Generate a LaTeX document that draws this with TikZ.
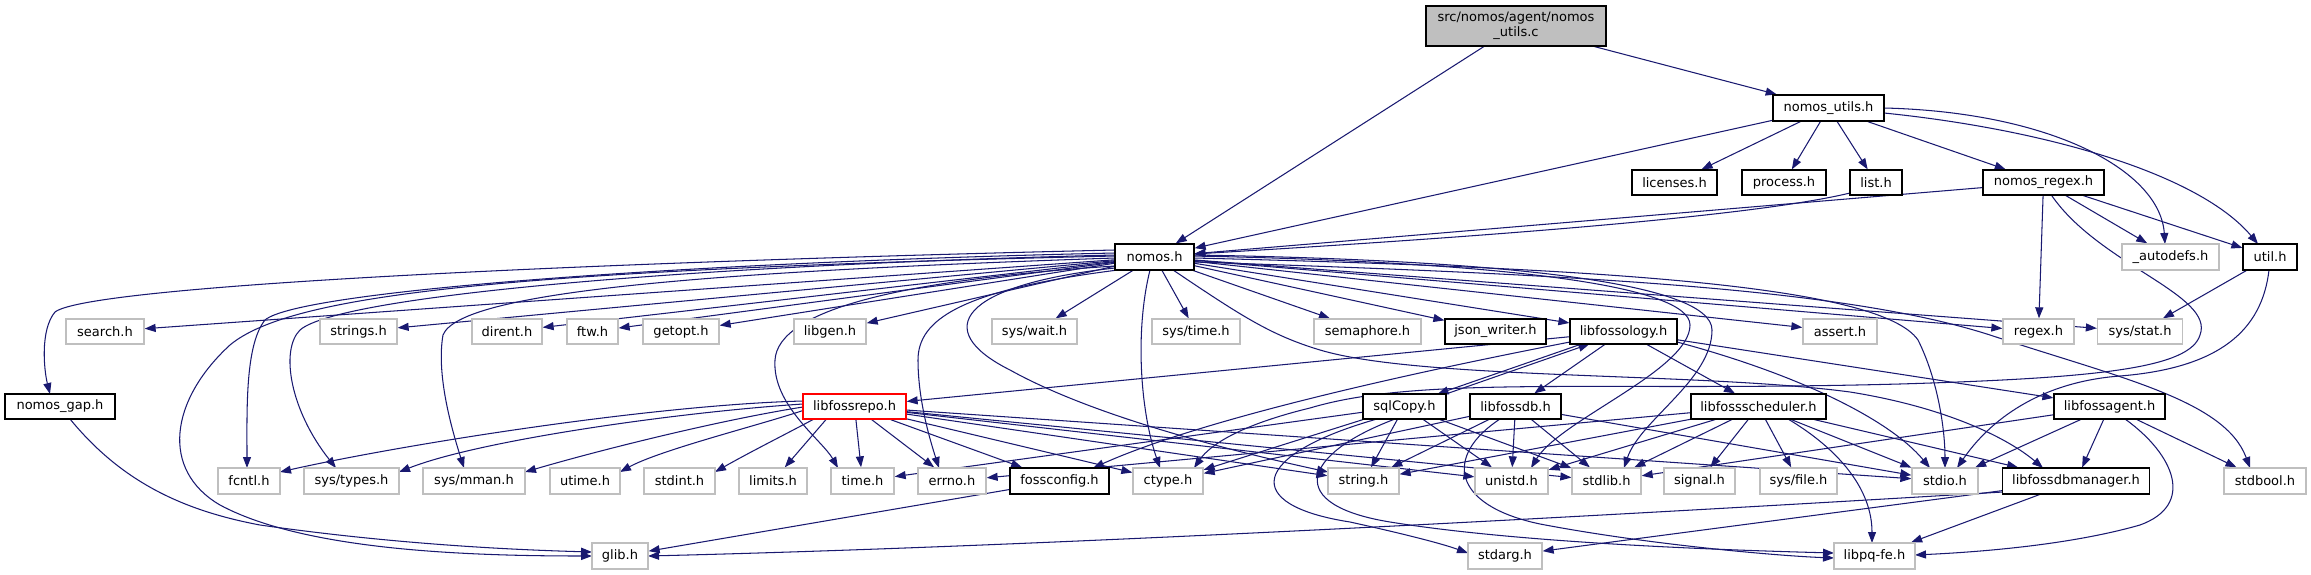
\documentclass[tikz,border=0pt]{standalone}
\usepackage{fontspec}
\newfontfamily\dv{DejaVu Sans}
\usetikzlibrary{arrows.meta}
\definecolor{edgec}{RGB}{25,25,112}
\definecolor{grayc}{RGB}{191,191,191}
\pgfdeclarelayer{bg}
\pgfsetlayers{bg,main}
\begin{document}
\begin{tikzpicture}[x=1pt,y=-1pt,
  e/.style={draw=edgec, line width=1.05pt, -{Triangle[length=11pt,width=8pt]}},
  nb/.style={draw=grayc, fill=white, line width=1.3pt, minimum height=25pt, inner sep=0pt, font=\dv\fontsize{13}{15}\selectfont},
  bb/.style={nb, draw=black, line width=1.2pt},
  rb/.style={nb, draw=red},
  sb/.style={bb, fill=grayc, align=center}]
\useasboundingbox (0,0) rectangle (2311,575);
% row 0-3
\node[sb, minimum width=180pt, minimum height=40pt] (src) at (1516,26) {src/nomos/agent/nomos\\\_utils.c};
\node[bb, minimum width=111pt, minimum height=26pt] (nutils) at (1828.5,108) {nomos\_utils.h};
\node[bb, minimum width=85pt] (licenses) at (1674.5,182.5) {licenses.h};
\node[bb, minimum width=84pt] (process) at (1784,182.5) {process.h};
\node[bb, minimum width=52pt] (list) at (1876,182.5) {list.h};
\node[bb, minimum width=121pt] (nregex) at (2043.5,182.5) {nomos\_regex.h};
\node[bb, minimum width=79pt, minimum height=26pt] (nomos) at (1154.5,257) {nomos.h};
\node[nb, minimum width=97pt, minimum height=26pt] (autodefs) at (2170.5,257) {\_autodefs.h};
\node[bb, minimum width=54pt, minimum height=26pt] (util) at (2270,257) {util.h};
% row 4
\node[nb, minimum width=78pt] (search) at (105,331.5) {search.h};
\node[nb, minimum width=77pt] (strings) at (358.5,331.5) {strings.h};
\node[nb, minimum width=70pt] (dirent) at (507,331.5) {dirent.h};
\node[nb, minimum width=51pt] (ftw) at (592.5,331.5) {ftw.h};
\node[nb, minimum width=76pt] (getopt) at (681,331.5) {getopt.h};
\node[nb, minimum width=72pt] (libgen) at (830,331.5) {libgen.h};
\node[nb, minimum width=85pt] (syswait) at (1034.5,331.5) {sys/wait.h};
\node[nb, minimum width=88pt] (systime) at (1196,331.5) {sys/time.h};
\node[nb, minimum width=107pt] (semaphore) at (1367.5,331.5) {semaphore.h};
\node[bb, minimum width=101pt] (json) at (1495.5,331.5) {json\_writer.h};
\node[bb, minimum width=107pt] (lfology) at (1623.5,331.5) {libfossology.h};
\node[nb, minimum width=74pt] (assert) at (1840,331.5) {assert.h};
\node[nb, minimum width=71pt] (regex) at (2038.5,331.5) {regex.h};
\node[nb, minimum width=85pt] (sysstat) at (2140,331.5) {sys/stat.h};
% row 5
\node[bb, minimum width=110pt] (ngap) at (60,406.5) {nomos\_gap.h};
\node[rb, minimum width=103pt] (lrepo) at (854.5,406.5) {libfossrepo.h};
\node[bb, minimum width=83pt] (sqlcopy) at (1404.5,406.5) {sqlCopy.h};
\node[bb, minimum width=91pt] (lfdb) at (1515.5,406.5) {libfossdb.h};
\node[bb, minimum width=135pt] (lsched) at (1758.5,406.5) {libfossscheduler.h};
\node[bb, minimum width=111pt] (lagent) at (2109.5,406.5) {libfossagent.h};
% row 6
\node[nb, minimum width=62pt, minimum height=26pt] (fcntl) at (249,481) {fcntl.h};
\node[nb, minimum width=95pt, minimum height=26pt] (systypes) at (351.5,481) {sys/types.h};
\node[nb, minimum width=102pt, minimum height=26pt] (sysmman) at (474,481) {sys/mman.h};
\node[nb, minimum width=70pt, minimum height=26pt] (utime) at (585,481) {utime.h};
\node[nb, minimum width=71pt, minimum height=26pt] (stdint) at (679.5,481) {stdint.h};
\node[nb, minimum width=68pt, minimum height=26pt] (limits) at (773,481) {limits.h};
\node[nb, minimum width=63pt, minimum height=26pt] (time) at (862.5,481) {time.h};
\node[nb, minimum width=68pt, minimum height=26pt] (errno) at (952,481) {errno.h};
\node[bb, minimum width=99pt, minimum height=26pt] (fossconfig) at (1059.5,481) {fossconfig.h};
\node[nb, minimum width=70pt, minimum height=26pt] (ctype) at (1168,481) {ctype.h};
\node[nb, minimum width=71pt, minimum height=26pt] (string) at (1363.5,481) {string.h};
\node[nb, minimum width=73pt, minimum height=26pt] (unistd) at (1511.5,481) {unistd.h};
\node[nb, minimum width=69pt, minimum height=26pt] (stdlib) at (1606.5,481) {stdlib.h};
\node[nb, minimum width=71pt, minimum height=26pt] (signal) at (1699.5,481) {signal.h};
\node[nb, minimum width=77pt, minimum height=26pt] (sysfile) at (1798.5,481) {sys/file.h};
\node[nb, minimum width=66pt, minimum height=26pt] (stdio) at (1945,481) {stdio.h};
\node[bb, minimum width=147pt, minimum height=26pt] (ldbm) at (2076,481) {libfossdbmanager.h};
\node[nb, minimum width=82pt, minimum height=26pt] (stdbool) at (2265,481) {stdbool.h};
% row 7
\node[nb, minimum width=56pt, minimum height=26pt] (glib) at (620,556) {glib.h};
\node[nb, minimum width=74pt, minimum height=26pt] (stdarg) at (1505,556) {stdarg.h};
\node[nb, minimum width=81pt, minimum height=26pt] (libpq) at (1874.5,556) {libpq-fe.h};

\begin{pgfonlayer}{bg}
% source and nomos_utils
\draw[e] (src) -- (nomos);
\draw[e] (src) -- (nutils);
\draw[e] (nutils) -- (nomos);
\draw[e] (nutils) -- (licenses);
\draw[e] (nutils) -- (process);
\draw[e] (nutils) -- (list);
\draw[e] (nutils) -- (nregex);
\draw[e] ([shift={(55.5,0)}]nutils.center) .. controls (2050,112) and (2160,170) .. ([shift={(-5.5,-13)}]autodefs.center);
\draw[e] ([shift={(55.5,5)}]nutils.center) .. controls (2050,130) and (2200,175) .. ([shift={(-12,-13)}]util.center);
\draw[e] ([shift={(-26,10.5)}]list.center) .. controls (1780,210) and (1600,230) .. ([shift={(39.5,-3)}]nomos.center);
% nomos_regex and util
\draw[e] (nregex) -- (nomos);
\draw[e] (nregex) -- (regex);
\draw[e] (nregex) -- (autodefs);
\draw[e] (nregex) -- (util);
\draw[e] ([shift={(8.5,13.5)}]nregex.center) .. controls (2100,265) and (2215,295) .. (2200,335) .. controls (2190,368) and (2100,378) .. (1900,384) .. controls (1600,392) and (1420,375) .. (1310,408) .. controls (1240,425) and (1210,445) .. ([shift={(26,-13)}]ctype.center);
\draw[e] (util) -- (sysstat);
\draw[e] ([shift={(-1,13)}]util.center) .. controls (2262,330) and (2220,368) .. (2120,376) .. controls (2040,382) and (1990,420) .. ([shift={(12,-13)}]stdio.center);
% nomos straight
\draw[e] (nomos) -- (search);
\draw[e] (nomos) -- (strings);
\draw[e] (nomos) -- (dirent);
\draw[e] (nomos) -- (ftw);
\draw[e] (nomos) -- (getopt);
\draw[e] (nomos) -- (libgen);
\draw[e] (nomos) -- (syswait);
\draw[e] (nomos) -- (systime);
\draw[e] (nomos) -- (semaphore);
\draw[e] (nomos) -- (json);
\draw[e] (nomos) -- (lfology);
\draw[e] (nomos) -- (assert);
\draw[e] (nomos) -- (regex);
\draw[e] (nomos) -- (sysstat);
% nomos curves
\draw[e] ([shift={(-39.5,-7)}]nomos.center) .. controls (600,262) and (90,285) .. (55,312) .. controls (40,330) and (44,370) .. ([shift={(-10,-12.5)}]ngap.center);
\draw[e] ([shift={(-39.5,-4)}]nomos.center) .. controls (700,262) and (300,290) .. (265,320) .. controls (245,345) and (247,410) .. ([shift={(-2,-13)}]fcntl.center);
\draw[e] ([shift={(-39.5,-2)}]nomos.center) .. controls (700,265) and (340,295) .. (300,330) .. controls (280,350) and (290,410) .. ([shift={(-15.5,-13)}]systypes.center);
\draw[e] ([shift={(-39.5,1)}]nomos.center) .. controls (700,272) and (460,292) .. (443,335) .. controls (436,375) and (452,430) .. ([shift={(-10,-13)}]sysmman.center);
\draw[e] ([shift={(-39.5,-1)}]nomos.center) .. controls (500,270) and (290,295) .. (230,345) .. controls (170,400) and (160,470) .. (220,505) .. controls (300,548) and (450,556) .. ([shift={(-28,0)}]glib.center);
\draw[e] ([shift={(-39.5,9)}]nomos.center) .. controls (900,280) and (778,310) .. (775,360) .. controls (772,405) and (822,440) .. ([shift={(-24.5,-13)}]time.center);
\draw[e] ([shift={(-36.5,13)}]nomos.center) .. controls (960,290) and (918,320) .. (918,360) .. controls (918,400) and (930,440) .. ([shift={(-13,-13)}]errno.center);
\draw[e] ([shift={(-4.5,13)}]nomos.center) .. controls (1135,330) and (1140,410) .. ([shift={(-8,-13)}]ctype.center);
\draw[e] ([shift={(-39.5,11)}]nomos.center) .. controls (960,285) and (930,330) .. (1010,370) .. controls (1100,420) and (1250,455) .. ([shift={(-35.5,-9)}]string.center);
\draw[e] ([shift={(39.5,5)}]nomos.center) .. controls (1600,275) and (1850,290) .. (1990,335) .. controls (2120,378) and (2225,400) .. ([shift={(-15,-13)}]stdbool.center);
\draw[e] ([shift={(39.5,1)}]nomos.center) .. controls (1600,268) and (1880,285) .. (1918,340) .. controls (1938,380) and (1945,430) .. ([shift={(0,-13)}]stdio.center);
\draw[e] ([shift={(39.5,-1)}]nomos.center) .. controls (1500,262) and (1690,285) .. (1690,325) .. controls (1690,370) and (1560,420) .. ([shift={(19.5,-13)}]unistd.center);
\draw[e] ([shift={(39.5,-2)}]nomos.center) .. controls (1500,260) and (1712,282) .. (1712,330) .. controls (1712,380) and (1640,420) .. ([shift={(17.5,-13)}]stdlib.center);
\draw[e] ([shift={(18.5,13)}]nomos.center) .. controls (1240,315) and (1270,335) .. (1320,350) .. controls (1420,380) and (1700,372) .. (1850,392) .. controls (1950,408) and (2010,440) .. ([shift={(-33,-13)}]ldbm.center);
% nomos_gap
\draw[e] ([shift={(10,12.5)}]ngap.center) .. controls (120,480) and (180,510) .. (260,525) .. controls (400,545) and (520,550) .. ([shift={(-28,-4)}]glib.center);
% libfossology
\draw[e] (lfology) -- (lrepo);
\draw[e] ([shift={(-42,12.5)}]lfology.center) -- ([shift={(33,-12.5)}]sqlcopy.center);
\draw[e] ([shift={(41.5,-12.5)}]sqlcopy.center) -- ([shift={(-34,12.5)}]lfology.center);
\draw[e] (lfology) -- (lfdb);
\draw[e] (lfology) -- (lsched);
\draw[e] (lfology) -- (lagent);
\draw[e] ([shift={(-53.5,10.5)}]lfology.center) .. controls (1400,375) and (1200,420) .. ([shift={(33.5,-13)}]fossconfig.center);
\draw[e] ([shift={(53.5,10.5)}]lfology.center) .. controls (1800,375) and (1890,420) .. ([shift={(-15,-13)}]stdio.center);
% libfossrepo
\draw[e] ([shift={(-51.5,-5.5)}]lrepo.center) .. controls (650,405) and (400,445) .. ([shift={(31,-9)}]fcntl.center);
\draw[e] ([shift={(-51.5,-2.5)}]lrepo.center) .. controls (680,412) and (480,440) .. ([shift={(47.5,-9)}]systypes.center);
\draw[e] ([shift={(-51.5,0.5)}]lrepo.center) .. controls (720,420) and (600,450) .. ([shift={(51,-9)}]sysmman.center);
\draw[e] ([shift={(-51.5,4)}]lrepo.center) .. controls (760,425) and (660,450) .. ([shift={(35,-9)}]utime.center);
\draw[e] ([shift={(-40.5,12.5)}]lrepo.center) .. controls (790,432) and (750,452) .. ([shift={(35.5,-9)}]stdint.center);
\draw[e] ([shift={(-28,12.5)}]lrepo.center) -- (limits);
\draw[e] (lrepo) -- (time);
\draw[e] (lrepo) -- (errno);
\draw[e] (lrepo) -- (fossconfig);
\draw[e] (lrepo) -- (ctype);
\draw[e] (lrepo) -- (string);
\draw[e] (lrepo) -- (unistd);
\draw[e] (lrepo) -- (stdlib);
\draw[e] (lrepo) -- (stdio);
% sqlCopy
\draw[e] (sqlcopy) -- (string);
\draw[e] (sqlcopy) -- (unistd);
\draw[e] (sqlcopy) -- (stdlib);
\draw[e] (sqlcopy) -- (ctype);
\draw[e] (sqlcopy) -- (time);
\draw[e] ([shift={(-27.5,12.5)}]sqlcopy.center) .. controls (1250,455) and (1240,505) .. (1350,522) .. controls (1400,533) and (1440,543) .. ([shift={(-37,-3)}]stdarg.center);
\draw[e] ([shift={(-9.5,12.5)}]sqlcopy.center) .. controls (1300,455) and (1285,505) .. (1390,522) .. controls (1520,543) and (1720,550) .. ([shift={(-40.5,-3)}]libpq.center);
% libfossdb
\draw[e] (lfdb) -- (string);
\draw[e] (lfdb) -- (unistd);
\draw[e] (lfdb) -- (stdlib);
\draw[e] (lfdb) -- (ctype);
\draw[e] (lfdb) -- (stdio);
\draw[e] ([shift={(-15.5,12.5)}]lfdb.center) .. controls (1445,455) and (1450,505) .. (1540,524) .. controls (1650,545) and (1780,556) .. ([shift={(-40.5,2)}]libpq.center);
% libfossscheduler
\draw[e] (lsched) -- (errno);
\draw[e] (lsched) -- (string);
\draw[e] (lsched) -- (unistd);
\draw[e] (lsched) -- (stdlib);
\draw[e] (lsched) -- (signal);
\draw[e] (lsched) -- (sysfile);
\draw[e] (lsched) -- (stdio);
\draw[e] (lsched) -- (ldbm);
\draw[e] ([shift={(29.5,12.5)}]lsched.center) .. controls (1840,450) and (1872,490) .. ([shift={(-2.5,-13)}]libpq.center);
% libfossagent
\draw[e] (lagent) -- (stdlib);
\draw[e] (lagent) -- (stdio);
\draw[e] (lagent) -- (ldbm);
\draw[e] (lagent) -- (stdbool);
\draw[e] ([shift={(15.5,12.5)}]lagent.center) .. controls (2175,455) and (2195,505) .. (2140,525) .. controls (2070,545) and (1980,552) .. ([shift={(40.5,-1)}]libpq.center);
% libfossdbmanager and fossconfig
\draw[e] (ldbm) -- (libpq);
\draw[e] (ldbm) -- (stdarg);
\draw[e] ([shift={(-73,11)}]ldbm.center) .. controls (1700,510) and (1100,545) .. ([shift={(28,0)}]glib.center);
\draw[e] (fossconfig) -- (glib);
\end{pgfonlayer}
\end{tikzpicture}
\end{document}
